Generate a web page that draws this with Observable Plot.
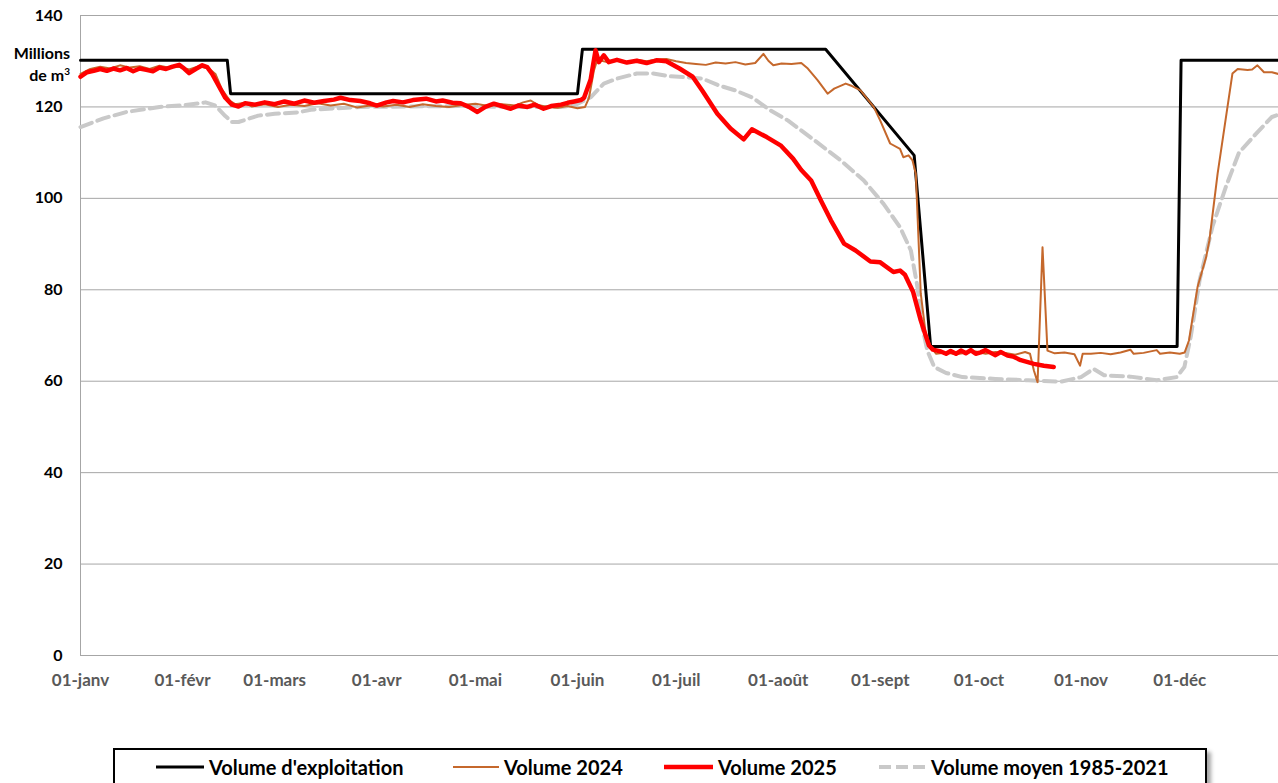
<!DOCTYPE html>
<html><head><meta charset="utf-8">
<script src="https://cdn.jsdelivr.net/npm/d3@7"></script>
<script src="https://cdn.jsdelivr.net/npm/@observablehq/plot@0.6"></script>
<style>
body{margin:0;background:#fff;font-family:Lato,"Open Sans",sans-serif;}
#wrap{position:relative;width:1278px;height:783px;overflow:hidden;}
#chart{position:absolute;left:0;top:0;}
#unit{position:absolute;left:0;top:42px;width:70px;text-align:right;font-weight:bold;font-size:16px;line-height:22px;color:#000;}
#unit sup{font-size:10px;line-height:0;}
#legend{position:absolute;left:113px;top:748px;width:1090px;height:50px;border:2px solid #000;box-shadow:4px 4px 4px rgba(0,0,0,0.35);background:#fff;}
.item{position:absolute;top:5px;height:24px;display:flex;align-items:center;font-weight:bold;font-size:20px;color:#000;white-space:nowrap;}
.item svg{margin-right:5px;}
</style></head>
<body>
<div id="wrap">
  <div id="chart"></div>
  <div id="unit">Millions<br>de m<sup>3</sup></div>
  <div id="legend"></div>
</div>
<script>
// ---- Data ----
const months = ["janv","févr","mars","avr","mai","juin","juil","août","sept","oct","nov","déc"];
const yTicks = [0,20,40,60,80,100,120,140];

const exploitDays = [0,44.6,45.6,151,152.5,226.4,253.3,258.3,333.2,334.4,364];
const exploitVals = [130.2,130.2,122.9,122.9,132.6,132.6,109.4,67.6,67.6,130.2,130.2];

const v2024Days = [0,3,6,9,12,15,18,21,24,27,30,33,36,39,41,43,45.5,47,50,52,56,60,64,68,72,76,80,84,88,92,96,100,104,108,112,116,120,124,128,132,134.5,136.8,139,142,145,148,151,153.3,154.5,156,157,160,163,166,169,172,175,178,181,184,187,190,193,196,199,202,205,207.5,209,210.5,213,216,219,221,224,227,229,232.5,234,237,241,243,246,249,250,251.6,252.8,253.8,255.3,256.8,258.4,260,263,266,269,272,275,278,281,284,287,288.5,289.7,290.8,292.3,293.8,296,299,302,303.7,304.5,307,310,313,316,319,320,323,327,328,331,334,335.5,336.8,339.4,342,343,345.5,348.5,350,351.6,354.6,356,357.6,359.6,362,364];
const v2024Vals = [127.2,128.3,128.8,128.4,129.1,128.6,128.9,128.3,129.0,128.6,128.8,128.2,128.9,128.4,127.2,123.8,121.3,120.6,120.9,120.1,120.6,120.0,120.5,120.2,120.8,120.3,120.7,119.9,120.3,120.1,120.5,120.0,120.6,120.2,120.0,120.4,120.7,120.2,120.6,120.3,121.0,121.4,120.4,120.0,119.8,120.2,119.7,120.0,122.0,128.0,130.3,129.8,130.1,129.7,130.3,130.0,130.4,130.5,130.0,129.6,129.4,129.2,129.7,129.5,129.8,129.3,129.6,131.6,130.1,129.1,129.5,129.4,129.6,128.4,125.8,122.9,124.0,125.1,124.7,123.6,120.0,117.0,112.0,110.8,109.0,109.4,108.3,105.4,79.2,70.4,67.4,66.0,66.3,65.9,66.2,66.5,66.0,66.4,66.2,65.8,66.4,66.0,62.3,59.8,89.3,66.7,66.1,66.3,65.9,63.4,66.0,66.0,66.2,65.9,66.3,66.9,66.0,66.2,66.8,66.0,66.3,66.0,66.3,68.9,80.6,87.1,90.8,105.4,120.0,127.3,128.3,128.1,128.2,129.1,127.6,127.6,127.2];

const v2025Days = [0,2,4,6,8,10,12,14,16,18,20,22,24,26,28,30,31.5,33,35,37,38.5,40,42,44,46,48,50,53,56,59,62,65,68,71,74,77,79,82,85,88,90,93,95,98,101,105,108,110,113,115.5,118,120.6,123,125.6,128,130.7,133,135.8,138,140.7,143,146,148,150,152,153,155,156.5,157.5,159,160.5,163,166,169,172,175,178,182,186,189,193.5,197.5,201.5,204,208.5,212.7,216.5,219,222,225,228,232,235.5,240,243,247,249,250.5,253,255.3,256.8,257.8,259,261.4,263,264.4,266,267.5,269,270.5,272,273.5,275,276.6,278,279.6,281.7,283.3,285.7,289.7,292.7,295.7];
const v2025Vals = [126.6,127.6,127.9,128.3,127.9,128.4,128.0,128.5,127.8,128.4,128.1,127.8,128.6,128.3,128.8,129.2,128.4,127.4,128.3,129.1,128.7,127.2,124.6,122.0,120.5,120.1,120.8,120.5,121.0,120.6,121.2,120.7,121.4,120.9,121.3,121.6,122.0,121.5,121.3,120.8,120.3,121.0,121.3,121.0,121.5,121.8,121.2,121.4,120.9,120.8,120.0,118.9,120.0,120.7,120.2,119.6,120.3,120.0,120.5,119.6,120.2,120.5,120.9,121.2,121.5,122.0,126.0,132.4,129.8,131.3,129.8,130.3,129.7,130.1,129.6,130.2,130.0,128.4,126.6,123.5,118.5,115.3,112.9,115.1,113.4,111.6,108.7,106.2,103.9,99.5,95.2,90.1,88.6,86.2,86.0,83.9,84.2,83.3,79.5,73.3,70.0,67.8,66.9,66.5,66.0,66.6,66.0,66.7,66.1,66.8,66.0,66.3,66.8,66.2,65.7,66.4,65.6,65.4,64.6,63.8,63.4,63.1];

const moyenDays = [0,7,14,24,32,38,41,44,46,48,54,59,66,70,85,100,115,130,146,150,155,159,163,169,174,179,184,189,194,199,204,209.5,215,223,231,238,244,249,252.3,254.3,255.8,257.3,259.4,263,268,278,288,298,304,307.8,311,319,327,333,335.4,337.4,340,344,348,352,357,362,364];
const moyenVals = [115.6,117.5,118.9,120.0,120.4,121.0,120.3,118.0,116.7,116.7,118.1,118.5,118.8,119.4,120.0,120.1,120.2,120.0,120.0,120.3,122.1,125.1,126.2,127.3,127.3,126.7,126.5,126.2,124.7,123.6,122.1,119.3,117.0,112.7,108.3,103.9,98.8,93.7,88.6,80.6,71.8,66.7,63.1,61.8,60.9,60.5,60.2,59.9,60.9,62.7,61.3,61.0,60.2,60.9,63.1,70.0,82.0,94.0,102.5,110.0,114.0,117.8,118.3];

const seriesNames = ["Volume d'exploitation","Volume 2024","Volume 2025","Volume moyen 1985-2021"];
const seriesColors = ["#000000","#C5682C","#FF0000","#C9C9C9"];

// ---- Build ----
const start = Date.UTC(2025,0,1);
const toDate = d => new Date(start + d*86400000);
const build = (days, vals) => days.map((d,i) => ({date: toDate(d), value: vals[i]}));
const monthStarts = months.map((m,i) => new Date(Date.UTC(2025,i,1)));

const chart = Plot.plot({
  width:1278, height:700,
  marginLeft:80, marginRight:0, marginTop:15, marginBottom:45,
  style:{fontFamily:"Lato, sans-serif", fontWeight:"bold", background:"transparent", overflow:"visible"},
  x:{type:"utc", domain:[toDate(0), toDate(364)]},
  y:{domain:[0,140]},
  marks:[
    Plot.ruleY(yTicks, {stroke:"#A6A6A6", strokeWidth:1}),
    Plot.ruleX([toDate(0)], {stroke:"#A6A6A6", strokeWidth:1}),
    Plot.axisY({ticks:yTicks, tickSize:0, tickPadding:18, fontSize:16, fill:"#000", label:null}),
    Plot.axisX({ticks:monthStarts, tickSize:0, tickPadding:18, fontSize:17, fill:"#595959", label:null,
      tickFormat: d => "01-" + months[d.getUTCMonth()]}),
    Plot.line(build(moyenDays, moyenVals), {x:"date", y:"value", stroke:seriesColors[3], strokeWidth:4, strokeDasharray:"12,6"}),
    Plot.line(build(exploitDays, exploitVals), {x:"date", y:"value", stroke:seriesColors[0], strokeWidth:3}),
    Plot.line(build(v2024Days, v2024Vals), {x:"date", y:"value", stroke:seriesColors[1], strokeWidth:2}),
    Plot.line(build(v2025Days, v2025Vals), {x:"date", y:"value", stroke:seriesColors[2], strokeWidth:4.5})
  ]
});
document.getElementById("chart").appendChild(chart);

// ---- Legend ----
const legend = document.getElementById("legend");
const itemLeft = [41, 338, 549, 764];
const sampleW = [48, 46, 49, 47];
const sampleSW = [3, 2, 4.5, 4];
const sampleDash = [null, null, null, "12,5"];
seriesNames.forEach((name, i) => {
  const div = document.createElement("div");
  div.className = "item";
  div.style.left = itemLeft[i] + "px";
  const ns = "http://www.w3.org/2000/svg";
  const svg = document.createElementNS(ns, "svg");
  svg.setAttribute("width", sampleW[i]); svg.setAttribute("height", 10);
  const ln = document.createElementNS(ns, "line");
  ln.setAttribute("x1", 0); ln.setAttribute("x2", sampleW[i]);
  ln.setAttribute("y1", 5); ln.setAttribute("y2", 5);
  ln.setAttribute("stroke", seriesColors[i]); ln.setAttribute("stroke-width", sampleSW[i]);
  if (sampleDash[i]) ln.setAttribute("stroke-dasharray", sampleDash[i]);
  svg.appendChild(ln);
  div.appendChild(svg);
  const span = document.createElement("span");
  span.textContent = name;
  div.appendChild(span);
  legend.appendChild(div);
});
</script>
</body></html>
